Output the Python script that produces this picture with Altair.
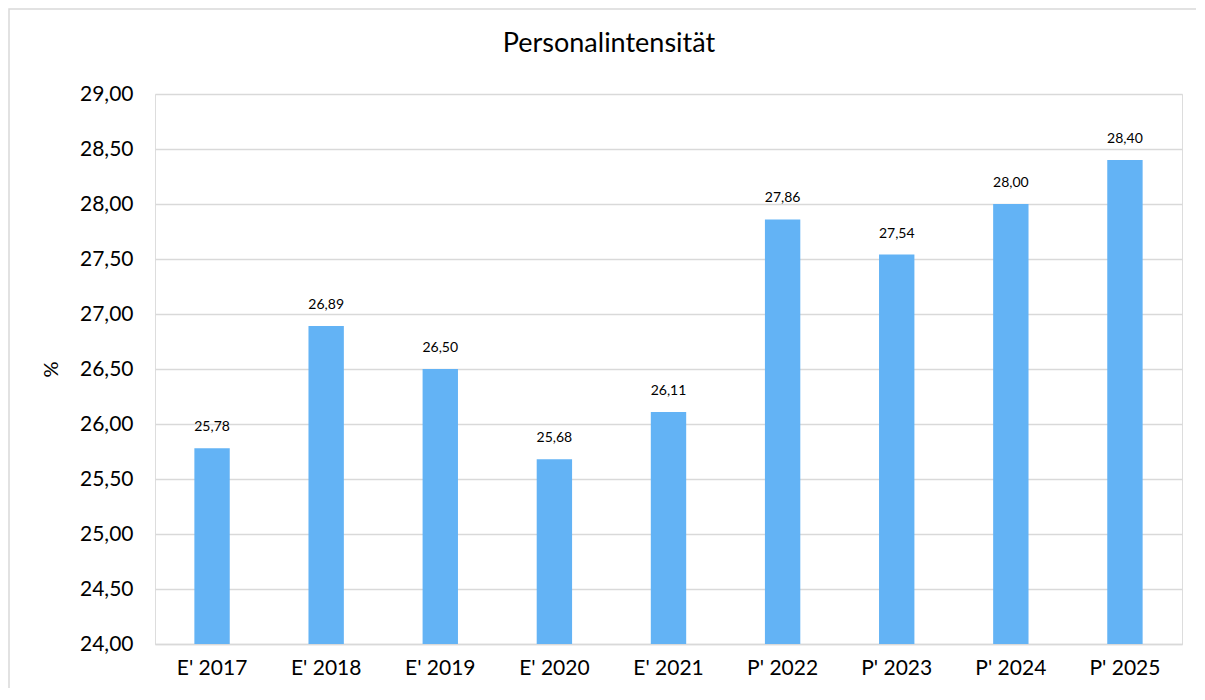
import altair as alt
import pandas as pd

categories = ["E' 2017", "E' 2018", "E' 2019", "E' 2020", "E' 2021",
              "P' 2022", "P' 2023", "P' 2024", "P' 2025"]
values = [25.78, 26.89, 26.50, 25.68, 26.11, 27.86, 27.54, 28.00, 28.40]
title_text = "Personalintensität"

df = pd.DataFrame({"cat": categories, "val": values})

FONT = "Lato"
BAR = "#63b3f5"

base = alt.Chart(df).encode(
    x=alt.X("cat:N", sort=categories, title=None,
            scale=alt.Scale(paddingInner=0.69, paddingOuter=0.345),
            axis=alt.Axis(labelAngle=0, labelFontSize=21, labelFont=FONT,
                          labelColor="#000000", ticks=False, domain=True,
                          domainColor="#d9d9d9", domainWidth=1.5, labelPadding=13)),
)

bars = base.mark_bar(color=BAR).encode(
    y=alt.Y("val:Q", title="%",
            scale=alt.Scale(domain=[24, 29], nice=False, zero=False),
            axis=alt.Axis(values=[24, 24.5, 25, 25.5, 26, 26.5, 27, 27.5, 28, 28.5, 29],
                          labelExpr="replace(format(datum.value, '.2f'), '.', ',')",
                          labelFontSize=21, labelFont=FONT, labelColor="#000000",
                          titleFontSize=20, titleFont=FONT, titleFontWeight="normal",
                          titleColor="#000000", titlePadding=18,
                          ticks=False, domain=False, labelPadding=22,
                          gridColor="#d9d9d9", gridWidth=1.5)),
    y2=alt.datum(24),
)

labels = base.transform_calculate(
    lab="replace(format(datum.val, '.2f'), '.', ',')"
).mark_text(dy=-21, fontSize=14, font=FONT, color="#000000").encode(
    y=alt.Y("val:Q"),
    text="lab:N",
)

title = alt.Chart(pd.DataFrame({"t": [title_text]})).mark_text(
    fontSize=27, font=FONT, color="#000000", baseline="alphabetic", align="center"
).encode(
    x=alt.value(454), y=alt.value(-42), text="t:N",
)

frame = alt.Chart(pd.DataFrame({"t": [0]})).mark_rect(
    fill=None, stroke="#d9d9d9", strokeWidth=1.5, clip=False
).encode(
    x=alt.value(-146), x2=alt.value(1100),
    y=alt.value(-85), y2=alt.value(700),
)

chart = alt.layer(frame, bars, labels, title).properties(
    width=1027, height=550,
    autosize=alt.AutoSizeParams(type="none"),
    padding={"left": 147, "top": 86, "right": 14, "bottom": 44},
).configure_view(stroke=None).configure(background="white")

chart.save("out.html", embed_options={"renderer": "svg", "actions": False})
